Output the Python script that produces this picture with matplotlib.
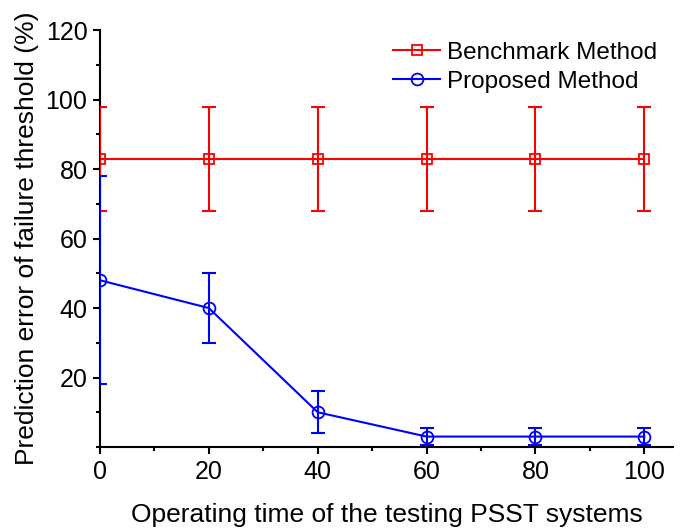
import matplotlib.pyplot as plt
from matplotlib.ticker import MultipleLocator

# Data
time = [0, 20, 40, 60, 80, 100]
benchmark = [83, 83, 83, 83, 83, 83]
benchmark_err = [15, 15, 15, 15, 15, 15]
proposed = [48, 40, 10, 3, 3, 3]
proposed_err = [30, 10, 6, 2.5, 2.5, 2.5]

plt.rcParams['font.family'] = ['Liberation Sans', 'DejaVu Sans']

fig = plt.figure(figsize=(6.8, 5.29), dpi=100)
ax = fig.add_axes([0.147, 0.155, 0.843, 0.788])

# error bars (drawn above the spines, like the original)
ax.errorbar(time, benchmark, yerr=benchmark_err, fmt='none', ecolor='red',
            elinewidth=1.5, capsize=5, capthick=1.5, zorder=3)
ax.errorbar(time, proposed, yerr=proposed_err, fmt='none', ecolor='blue',
            elinewidth=1.5, capsize=5, capthick=1.5, zorder=3)

# lines with markers
ax.plot(time, benchmark, color='red', lw=1.5, marker='s', ms=7.5,
        mfc='none', mec='red', mew=1.3, label='Benchmark Method', zorder=3)
ax.plot(time, proposed, color='blue', lw=1.5, marker='o', ms=8.5,
        mfc='none', mec='blue', mew=1.3, label='Proposed Method', zorder=3)

ax.set_xlim(0, 105.3)
ax.set_ylim(0, 120)
ax.set_xticks([0, 20, 40, 60, 80, 100])
ax.set_yticks([20, 40, 60, 80, 100, 120])
ax.xaxis.set_minor_locator(MultipleLocator(10))
ax.yaxis.set_minor_locator(MultipleLocator(10))

for s in ['top', 'right']:
    ax.spines[s].set_visible(False)
for s in ['left', 'bottom']:
    ax.spines[s].set_linewidth(1.5)

ax.tick_params(which='major', direction='out', length=5, width=1.5,
               labelsize=18, pad=4)
ax.tick_params(which='minor', direction='out', length=3, width=1.5)

ax.set_xlabel('Operating time of the testing PSST systems', fontsize=19, labelpad=14)
ax.set_ylabel('Prediction error of failure threshold (%)', fontsize=19, labelpad=5)

ax.legend(loc='upper right', bbox_to_anchor=(1.01, 1.025), frameon=False,
          fontsize=17.5, handlelength=1.9, handletextpad=0.3, labelspacing=0.3)

plt.savefig('out.png', dpi=100)
